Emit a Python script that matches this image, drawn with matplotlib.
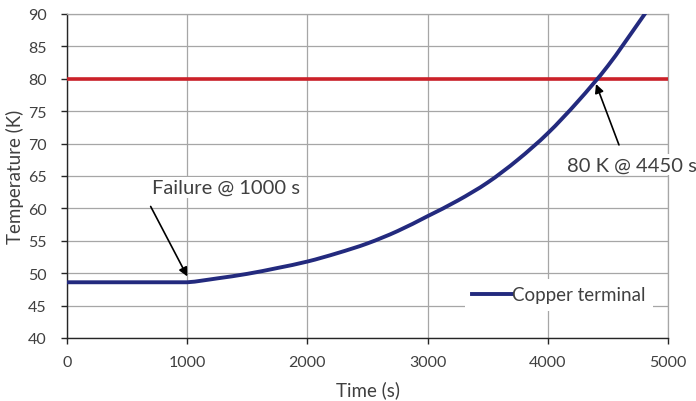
import matplotlib
matplotlib.use("Agg")
import matplotlib.pyplot as plt
from matplotlib.path import Path
from matplotlib.patches import PathPatch
from matplotlib.lines import Line2D
import numpy as np

# ── data ────────────────────────────────────────────────────────────
time_s = [0, 250, 500, 750, 1000, 1250, 1500, 1750, 2000, 2250, 2500,
          2750, 3000, 3250, 3500, 3750, 4000, 4250, 4500, 4750, 4900]
temp_k = [48.6, 48.6, 48.6, 48.6, 48.6, 49.2, 49.9, 50.8, 51.8, 53.1, 54.6,
          56.5, 58.8, 61.2, 64.0, 67.5, 71.6, 76.5, 82.0, 88.5, 92.5]
limit_k = 80
series_label = "Copper terminal"
x_ticks = [0, 1000, 2000, 3000, 4000, 5000]
y_ticks = [40, 45, 50, 55, 60, 65, 70, 75, 80, 85, 90]

# ── style ───────────────────────────────────────────────────────────
NAVY = "#232A7E"
RED = "#CB2129"
GRID = "#A6A6A6"
TXT = "#404040"
FONT = "Lato"

plt.rcParams["font.family"] = FONT


def smooth_path(xs, ys):
    # Excel-style smoothed line: cubic Bezier through every point,
    # control points kept inside each segment so flat parts stay flat
    pts = np.column_stack([xs, ys]).astype(float)
    n = len(pts)
    verts = [pts[0]]
    codes = [Path.MOVETO]
    for i in range(n - 1):
        p_prev = pts[max(i - 1, 0)]
        p0, p1 = pts[i], pts[i + 1]
        p_next = pts[min(i + 2, n - 1)]
        c1 = p0 + (p1 - p_prev) / 6
        c2 = p1 - (p_next - p0) / 6
        lo, hi = min(p0[1], p1[1]), max(p0[1], p1[1])
        c1[1] = np.clip(c1[1], lo, hi)
        c2[1] = np.clip(c2[1], lo, hi)
        verts += [c1, c2, p1]
        codes += [Path.CURVE4] * 3
    return Path(verts, codes)


fig = plt.figure(figsize=(6.96, 4.02), dpi=100)
fig.patch.set_facecolor("white")
ax = fig.add_axes([67 / 696, 1 - 339 / 402, 601 / 696, 324 / 402])

ax.set_xlim(0, 5000)
ax.set_ylim(40, 90)
ax.set_xticks(x_ticks)
ax.set_yticks(y_ticks)
ax.grid(True, color=GRID, lw=0.9)
ax.set_axisbelow(True)

for side in ("top", "right"):
    ax.spines[side].set_color(GRID)
    ax.spines[side].set_linewidth(0.9)
for side in ("left", "bottom"):
    ax.spines[side].set_color("#262626")
    ax.spines[side].set_linewidth(1.0)

ax.tick_params(axis="both", direction="out", length=4.5, width=1.0,
               color="#262626", labelcolor=TXT, labelsize=11.5)
ax.tick_params(axis="y", pad=10)
ax.tick_params(axis="x", pad=8)

ax.axhline(limit_k, color=RED, lw=2.6, zorder=3)
curve = PathPatch(smooth_path(time_s, temp_k), fc="none", ec=NAVY, lw=2.8,
                  zorder=4, transform=ax.transData)
ax.add_patch(curve)

ax.set_xlabel("Time (s)", fontsize=13.5, color=TXT, labelpad=8)
ax.set_ylabel("Temperature (K)", fontsize=13.5, color=TXT, labelpad=3)

handle = Line2D([], [], color=NAVY, lw=2.8)
leg = ax.legend([handle], [series_label], loc="lower right",
                bbox_to_anchor=(0.99, 0.055),
                frameon=True, fancybox=False, framealpha=1,
                facecolor="white", edgecolor="none", fontsize=13.5,
                handlelength=2.1, handletextpad=0.0, borderpad=0.4)
for t in leg.get_texts():
    t.set_color(TXT)

box = dict(boxstyle="square,pad=0.1", fc="white", ec="none")
arrow = dict(arrowstyle="-|>", color="black", lw=1.2, mutation_scale=13,
             shrinkA=0, shrinkB=0)

ax.annotate("Failure @ 1000 s", xy=(1001, 49.5), xytext=(705, 63.3),
            fontsize=14.5, color=TXT, ha="left", va="center", bbox=box,
            zorder=6)
ax.annotate("", xy=(1001, 49.5), xytext=(696, 60.3), arrowprops=arrow,
            zorder=6)

ax.annotate("80 K @ 4450 s", xy=(4401, 79.2), xytext=(4162, 66.7),
            fontsize=14.5, color=TXT, ha="left", va="center", bbox=box,
            zorder=6, annotation_clip=False)
ax.annotate("", xy=(4401, 79.2), xytext=(4592, 69.8), arrowprops=arrow,
            zorder=6)

fig.savefig("out.png", dpi=100, facecolor="white")
